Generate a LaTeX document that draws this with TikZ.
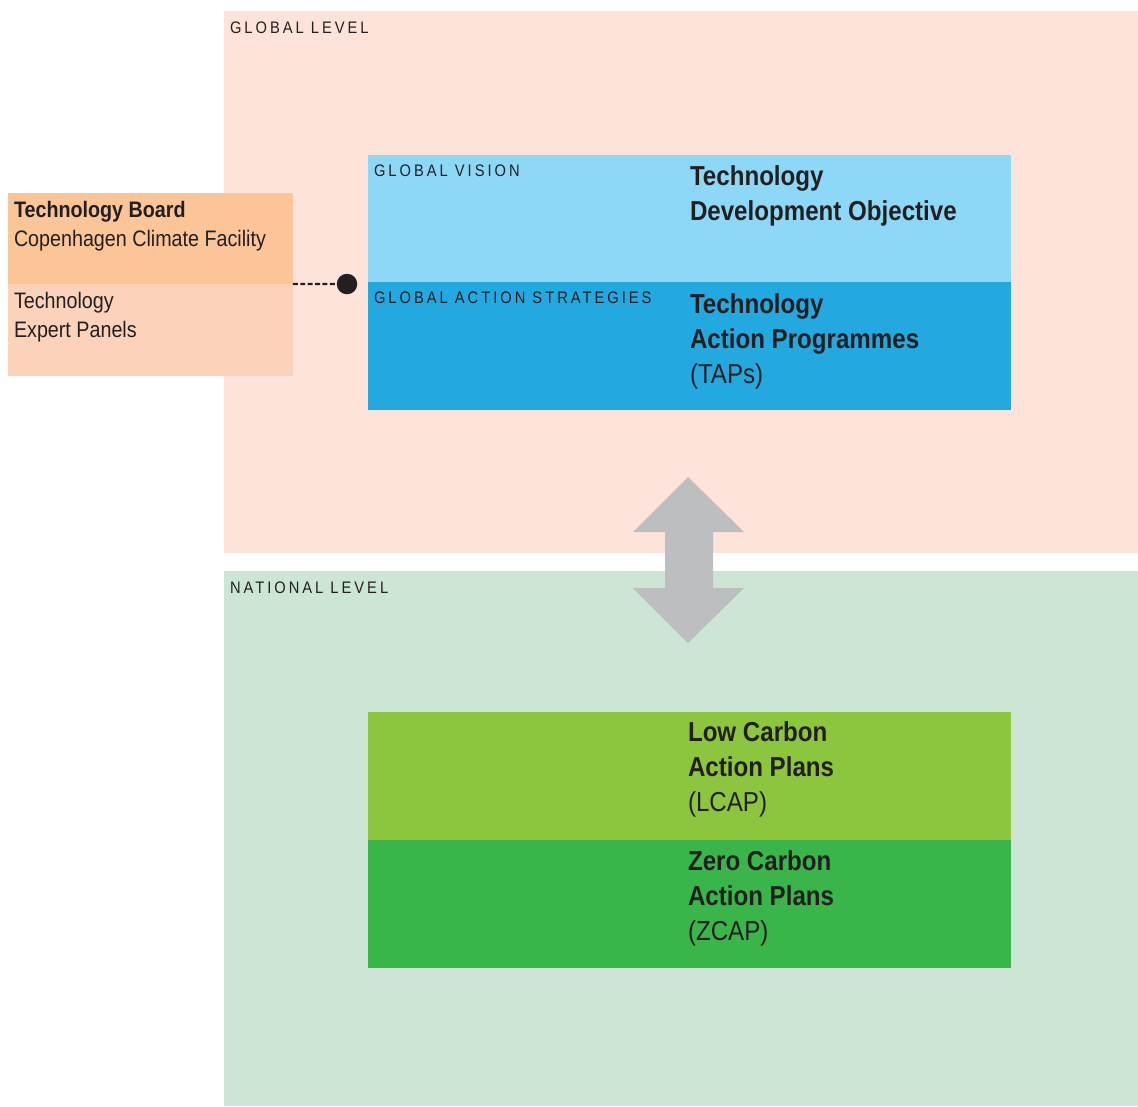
\documentclass[tikz,border=0pt]{standalone}
\usepackage{fontspec}
\setmainfont[FakeStretch=0.88]{Liberation Sans}
\newfontfamily\spacedfont[FakeStretch=0.88,LetterSpace=18]{Liberation Sans}
\usepackage{tikz}
\definecolor{globalbg}{HTML}{FDE3D9}
\definecolor{nationalbg}{HTML}{CCE5D5}
\definecolor{boardtop}{HTML}{FBC597}
\definecolor{boardlow}{HTML}{FCD3BA}
\definecolor{vision}{HTML}{8DD8F6}
\definecolor{action}{HTML}{23A8E0}
\definecolor{lowcarbon}{HTML}{8CC63F}
\definecolor{zerocarbon}{HTML}{3AB54A}
\definecolor{arrowgrey}{HTML}{BCBEC0}
\definecolor{ink}{HTML}{231F20}

\begin{document}
\begin{tikzpicture}[x=0.02cm,y=-0.02cm]
\tikzstyle{every node}+=[inner sep=0pt,outer sep=0pt,text=ink]
\tikzstyle{panel}=[rectangle,anchor=north west]
\tikzstyle{levellabel}=[anchor=base west,font=\spacedfont\fontsize{9.5}{11}\selectfont]
% multi-line texts are placed by the baseline of their last line
\tikzstyle{boardtext}=[anchor=base west,align=left,font=\fontsize{12.75}{16.4}\selectfont]
\tikzstyle{plantext}=[anchor=base west,align=left,font=\fontsize{15.6}{19.85}\selectfont]
\useasboundingbox (0,0) rectangle (1138,1106);
% levels
\node[panel,fill=globalbg,minimum width=18.28cm,minimum height=10.84cm] (global) at (224,11) {};
\node[panel,fill=nationalbg,minimum width=18.28cm,minimum height=10.70cm] (national) at (224,571) {};
\node[levellabel] (globallabel) at (230,33) {GLOBAL LEVEL};
\node[levellabel] (nationallabel) at (230,593) {NATIONAL LEVEL};
% board
\node[panel,fill=boardtop,minimum width=5.70cm,minimum height=1.82cm] (board) at (8,193) {};
\node[panel,fill=boardlow,minimum width=5.70cm,minimum height=1.84cm] (panels) at (8,284) {};
\node[boardtext] (boardtxt) at (14,246) {\textbf{Technology Board}\\Copenhagen Climate Facility};
\node[boardtext] (panelstxt) at (14,337) {Technology\\Expert Panels};
% global boxes
\node[panel,fill=vision,minimum width=12.86cm,minimum height=2.54cm] (vis) at (368,155) {};
\node[panel,fill=action,minimum width=12.86cm,minimum height=2.56cm] (act) at (368,282) {};
\node[levellabel] (vislabel) at (374,176) {GLOBAL VISION};
\node[levellabel] (actlabel) at (374,303) {GLOBAL ACTION STRATEGIES};
\node[plantext] (vistxt) at (690,220) {\textbf{Technology}\\\textbf{Development Objective}};
\node[plantext] (acttxt) at (690,383) {\textbf{Technology}\\\textbf{Action Programmes}\\(TAPs)};
% national boxes
\node[panel,fill=lowcarbon,minimum width=12.86cm,minimum height=2.56cm] (lcap) at (368,712) {};
\node[panel,fill=zerocarbon,minimum width=12.86cm,minimum height=2.56cm] (zcap) at (368,840) {};
\node[plantext] (lcaptxt) at (688,811) {\textbf{Low Carbon}\\\textbf{Action Plans}\\(LCAP)};
\node[plantext] (zcaptxt) at (688,940) {\textbf{Zero Carbon}\\\textbf{Action Plans}\\(ZCAP)};
% link
\node[circle,fill=ink,minimum size=0.41cm] (dot) at (347,284) {};
\draw[ink,line width=1.4pt,dash pattern=on 2.8pt off 1.4pt] (board.south east) -- (dot.west);
% two-way arrow
\fill[arrowgrey] (688,477) -- (744,532) -- (713,532) -- (713,588) -- (744,588) -- (688,643)
  -- (633,588) -- (665,588) -- (665,532) -- (633,532) -- cycle;
\end{tikzpicture}
\end{document}
